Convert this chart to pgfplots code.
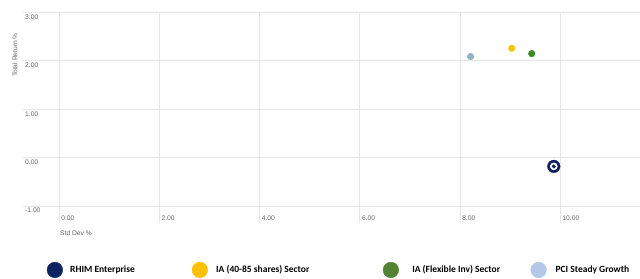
\documentclass[border=0pt]{standalone}
\usepackage{fontspec}
\setmainfont{Liberation Sans}
\newfontfamily\legfont{Carlito}
\usepackage{pgfplots}
\pgfplotsset{compat=1.18}
\definecolor{navy}{HTML}{0B1F5E}
\definecolor{legnavy}{HTML}{0D2260}
\definecolor{yel}{HTML}{F7C600}
\definecolor{legyel}{HTML}{FFC000}
\definecolor{grn}{HTML}{3D8A22}
\definecolor{leggrn}{HTML}{548235}
\definecolor{lblue}{HTML}{8FB3C8}
\definecolor{leglblue}{HTML}{B4C7E7}
\definecolor{gridc}{HTML}{E6E6E6}
\definecolor{tickc}{HTML}{666666}
\begin{document}
\begin{tikzpicture}[x=1pt,y=1pt]
\begin{axis}[
  scale only axis,
  width=617pt, height=210.5pt,
  xmin=-0.72, xmax=11.59,
  ymin=-1.35, ymax=3.0,
  axis line style={draw=none},
  major tick length=0pt,
  xtick={0,2,4,6,8,10},
  ytick={-1,0,1,2,3},
  grid=major,
  major grid style={gridc, line width=0.8pt},
  /pgf/number format/assume math mode=true,
  /pgf/number format/fixed,
  /pgf/number format/fixed zerofill,
  /pgf/number format/precision=2,
  ticklabel style={font=\fontsize{6.7}{7.5}\selectfont, text=tickc},
  yticklabel style={anchor=north west, inner sep=2pt},
  xticklabel style={anchor=south west, inner sep=2pt},
  xlabel={Std Dev \%},
  ylabel={Total Return \%},
  label style={font=\fontsize{6.7}{7.5}\selectfont, text=tickc},
  xlabel style={at={(axis description cs:0.06,-0.0475)}, anchor=west, inner sep=0pt},
  ylabel style={at={(axis description cs:-0.013,0.798)}, anchor=center, inner sep=0pt},
  clip=false,
  legend columns=4,
  legend style={at={(axis description cs:0.0384,-0.223)}, anchor=west, draw=none,
    inner sep=0pt, column sep=0pt,
    nodes={inner xsep=0pt, inner ysep=1pt, font=\legfont\bfseries\fontsize{9.5}{11}\selectfont, anchor=west}},
]
% data
\addplot[forget plot, only marks, color=navy, mark=*, mark size=6.3pt] coordinates {(9.87,-0.18)};
\addplot[forget plot, only marks, color=white, mark=*, mark size=3.6pt] coordinates {(9.87,-0.18)};
\addplot[forget plot, only marks, color=navy, mark=*, mark size=1.8pt] coordinates {(9.87,-0.18)};
\addplot[forget plot, only marks, color=yel, mark=*, mark size=3.3pt] coordinates {(9.03,2.26)};
\addplot[forget plot, only marks, color=grn, mark=*, mark size=3.3pt] coordinates {(9.43,2.15)};
\addplot[forget plot, only marks, color=lblue, mark=*, mark size=3.3pt] coordinates {(8.21,2.09)};
% legend
\addlegendimage{legend image code/.code={\fill[legnavy] (7.8pt,0pt) circle (7.8pt);}}
\addlegendentry{\hspace{7.3pt}\makebox[121.7pt][l]{RHIM Enterprise}}
\addlegendimage{legend image code/.code={\fill[legyel] (7.8pt,0pt) circle (7.8pt);}}
\addlegendentry{\hspace{8.3pt}\makebox[166.7pt][l]{IA (40-85 shares) Sector}}
\addlegendimage{legend image code/.code={\fill[leggrn] (7.8pt,0pt) circle (7.8pt);}}
\addlegendentry{\hspace{13.4pt}\makebox[118.3pt][l]{IA (Flexible Inv) Sector}}
\addlegendimage{legend image code/.code={\fill[leglblue] (7.8pt,0pt) circle (7.8pt);}}
\addlegendentry{\hspace{9pt}PCI Steady Growth}
\coordinate (bl) at (axis description cs:-0.03728,-0.266);
\coordinate (tr) at (axis description cs:1,1.0594);
\end{axis}
\pgfresetboundingbox
\path (bl) rectangle (tr);
\end{tikzpicture}
\end{document}
